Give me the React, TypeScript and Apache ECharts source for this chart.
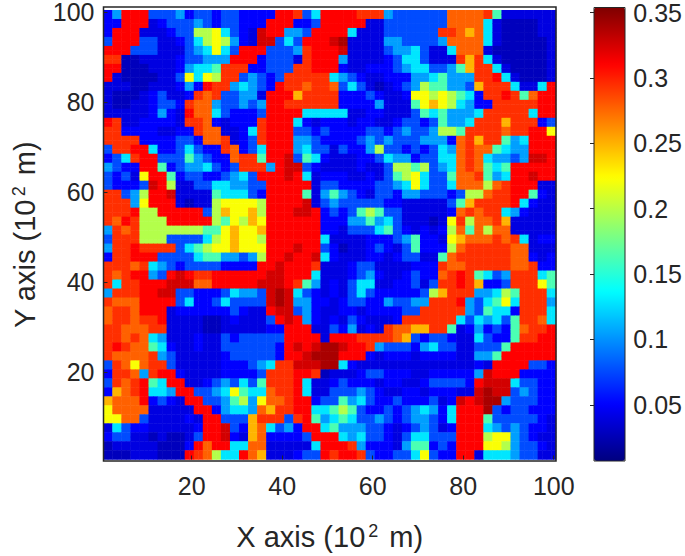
import React, { useEffect, useRef } from "react";
import * as echarts from "echarts";

const AXIS_CATEGORIES = Array.from({ length: 100 }, (_, i) => String(i + 1));
const COLORBAR_TICKS = [0.05, 0.1, 0.15, 0.2, 0.25, 0.3, 0.35];
const JET = ["#00007f", "#0000ff", "#007fff", "#00ffff", "#7fff7f", "#ffff00", "#ff7f00", "#ff0000", "#7f0000"];
const VMIN = 0.007;
const VMAX = 0.352;
// level for each code character
const LEVELS: Record<string, number> = {
  "0": 0.028, "1": 0.04, "2": 0.05, "3": 0.076, "4": 0.104, "5": 0.128, "6": 0.162, "7": 0.197,
  "8": 0.221, "9": 0.248, a: 0.276, b: 0.293, c: 0.309, d: 0.324, e: 0.338,
};
// 50 rows of 50 blocks (each 2x2 units), top row first
const ROWS = [
  "24ccc 33342 33233 2222c cb35c cccbb b4333 333aa aab61 11111",
  "22ccc 12333 43233 222cc c223c cccc1 13333 333aa aa510 00011",
  "2ccc1 11233 77853 21dcc 443cc cc511 13333 33bba 9a510 00011",
  "3ccc3 31123 57874 21dd3 53ccc de111 14433 334aa aa510 00001",
  "ccc33 31113 45853 ccc33 34bcc cd111 13445 3115a aa100 00001",
  "bb001 11123 3444c cc233 31bcc c4111 12355 3111b 9b510 00001",
  "cc000 11124 556bb b2233 3bbcc c2112 22345 53346 9bb51 00001",
  "c1000 01138 587bb 34323 bbbbb 54321 12224 45644 4bbc5 10001",
  "11100 11124 2cbb4 5432c bbabb a3531 01234 76644 39bbb 5115c",
  "10001 23112 bab33 441cc c9bbb b2223 21128 87876 52bbc b6acc",
  "10011 2332b aa433 434cc bbbbb b2222 41116 89875 422bb bbbcc",
  "11111 2421c aa532 223cc cc555 55112 21113 65644 45bbb bb5cc",
  "cb112 2221b ba212 22bcc c5212 22122 11233 23644 5bbb9 bbb23",
  "bb222 21122 baa11 25bcc c3323 22223 32343 34776 bbbba bbcc8",
  "bbbb2 22233 2aab1 23bcc c4432 22234 34333 4442a b9bb6 45ccc",
  "3bbcc 52235 322ba 235cc c4533 13224 73323 2354a baa65 44ccc",
  "235bc c3336 4322a bb6cc d3652 11122 35442 3355a ba544 34ddc",
  "4322c c6234 45323 bbb4c dd321 11121 13776 7345a ba656 ccccc",
  "32318 cc623 32234 53ccc dc512 22112 13678 5336a ab645 ccdcc",
  "32223 dc711 33554 433cc ccc13 32222 33458 5335a aa7ab ccc11",
  "bb347 ccd11 11655 532cc cc614 64321 33244 33323 77abb cc621",
  "bbb48 ccc10 11788 887cc ccd13 43333 32211 11136 9bbbb c5211",
  "bbbc7 7cccc c3798 897cc cddc2 32367 63311 1112a babb5 42111",
  "bacb7 77ccc cc768 798cc cccc2 22446 45311 1018b 7aab9 11111",
  "4bab7 77777 76689 889cc cccc2 21333 56321 2127a 6a7aa 11111",
  "3bbb7 77333 35789 887cc cccc5 11112 22346 22189 aaaba b5122",
  "4bbcb bbb35 67889 888cc cdcc3 20112 32136 2227a bbbbb aa111",
  "2bbcc c3333 56644 347cc dccd5 21112 21233 116ab bbbbb aa212",
  "bbbab 54323 33322 22ccd cccb1 11233 11112 22baa bbbbb aab22",
  "babcc 43cdc bbccc cccdd ccc51 11234 21123 22abc b6534 bbb56",
  "b5bbc ccddd aaccc ccddd cb641 21355 11223 13bbc b9223 bbb86",
  "4bbbc cdd33 22235 443de d5321 21353 22222 379bb b4457 6bbb5",
  "baaac ccc35 22353 333de d4422 12332 24334 4bbbc 43568 5bbb4",
  "abbac cc122 22223 211cd d3421 12212 22233 bbbbb 43655 2bbb5",
  "abbab bc111 10012 1113c dc421 21321 112bb bbbb5 35453 6bba5",
  "bbaaa bb111 10011 11122 ccc11 32412 1baa9 9bb61 24232 6abbc",
  "bbaba 54111 21132 33333 cccc1 cccbb bba93 23321 15322 6bbcc",
  "bcbaa 65211 21133 33332 cdcde edccb 43332 45331 13336 ccccc",
  "baaaa b4311 11123 33332 ccdee eccc2 12221 22221 1446c ccccc",
  "3ba8a bb311 11122 2345b bddde e5211 11111 11111 121cc cc332",
  "2bba4 bcc21 11122 223bb bccb0 11123 32221 12222 24dcc c2222",
  "3babc 65cc1 12343 536bb bc511 23222 12211 23333 2cddd 53322",
  "29abc 554cc 33458 655ab bc511 33343 21122 12221 1dedd 34322",
  "9aaac 2321c c3346 748aa bcc23 36453 22322 2312d cdee4 33322",
  "8aaaa 11111 cc245 54a9b bcc55 67632 23234 5425c cce32 33222",
  "88aa3 11112 1cc33 39bbb 3bc64 56533 43234 4325c cc633 33321",
  "15322 11111 2ccd3 29a53 42cc5 64443 32123 4312c cc543 43221",
  "23311 01001 3ccd2 19a22 223cc c5453 32135 5333c cc788 43211",
  "01111 10002 cacc5 5aa11 1115c ccb42 22146 6232c cc887 43321",
  "00011 1000c ba755 ca911 1233c bccb3 22335 8322c c1555 43311",
];

const TEXT = "#262626";
const FONT = "'Liberation Sans', Arial, sans-serif";

function cells(): [number, number, number][] {
  const out: [number, number, number][] = [];
  ROWS.forEach((row, r) => {
    row.replace(/ /g, "").split("").forEach((code, c) => {
      const v = LEVELS[code];
      for (let dx = 0; dx < 2; dx++) {
        for (let dy = 0; dy < 2; dy++) {
          out.push([c * 2 + dx, 99 - r * 2 - dy, v]);
        }
      }
    });
  });
  return out;
}

const showEvery20 = (i: number) => (i + 1) % 20 === 0;
const titleRich = {
  a: { fontSize: 29, fontFamily: FONT, color: TEXT },
  b: { fontSize: 18, fontFamily: FONT, color: TEXT, verticalAlign: "top", padding: [0, 3, 12, 3] },
};

export default function App() {
  const ref = useRef<HTMLDivElement>(null);
  useEffect(() => {
    const chart = echarts.init(ref.current!, undefined, { renderer: "svg" });
    const L = 103.5, T = 7, W = 452.5, H = 454;
    chart.setOption({
      animation: false,
      backgroundColor: "#fff",
      textStyle: { fontFamily: FONT },
      grid: [
        { left: L, top: T, width: W, height: H },
        { left: 594, top: 7.5, width: 31, height: 453.5 },
      ],
      xAxis: [
        {
          gridIndex: 0, type: "category", data: AXIS_CATEGORIES, position: "bottom",
          name: "{a|X axis (10}{b|2}{a| m)}", nameLocation: "middle", nameGap: 62,
          nameTextStyle: { rich: titleRich },
          axisLine: { show: false },
          axisTick: { show: true, inside: true, length: 4, alignWithLabel: true, interval: showEvery20, lineStyle: { color: TEXT } },
          axisLabel: { interval: showEvery20, fontSize: 25, color: TEXT, margin: 14, fontFamily: FONT },
          splitLine: { show: false },
          z: 5,
        },
        { gridIndex: 1, type: "value", min: 0, max: 1, show: false },
      ],
      yAxis: [
        {
          gridIndex: 0, type: "category", data: AXIS_CATEGORIES,
          name: "{a|Y axis (10}{b|2}{a| m)}", nameLocation: "middle", nameGap: 64, nameRotate: 90,
          nameTextStyle: { rich: titleRich },
          axisLine: { show: false },
          axisTick: { show: true, inside: true, length: 4, alignWithLabel: true, interval: showEvery20, lineStyle: { color: TEXT } },
          axisLabel: { interval: showEvery20, fontSize: 25, color: TEXT, margin: 9, fontFamily: FONT },
          splitLine: { show: false },
          z: 5,
        },
        {
          gridIndex: 1, type: "value", position: "right", min: VMIN, max: VMAX,
          axisLine: { show: false },
          axisTick: { show: true, inside: true, length: 4, customValues: COLORBAR_TICKS, lineStyle: { color: TEXT } },
          axisLabel: {
            fontSize: 25, color: TEXT, margin: 10, fontFamily: FONT,
            customValues: COLORBAR_TICKS,
            formatter: (v: number) => String(Math.round(v * 100) / 100),
          },
          splitLine: { show: false },
          z: 5,
        },
      ],
      visualMap: {
        show: true, type: "continuous", seriesIndex: 0, min: VMIN, max: VMAX,
        calculable: false, realtime: false, hoverLink: false,
        left: 594, top: 7.5, itemWidth: 31, itemHeight: 453.5, padding: 0, text: undefined, showLabel: false,
        textStyle: { fontSize: 0, color: "transparent" }, formatter: () => "",
        inRange: { color: JET },
      },
      series: [
        {
          type: "heatmap", xAxisIndex: 0, yAxisIndex: 0, data: cells(), progressive: 0,
          itemStyle: { borderWidth: 0 }, emphasis: { disabled: true }, silent: true,
        },
        { type: "scatter", xAxisIndex: 1, yAxisIndex: 1, data: [], silent: true },
      ],
      graphic: [
        { type: "rect", shape: { x: L, y: T, width: W, height: H }, style: { fill: "none", stroke: TEXT, lineWidth: 1.5 }, z: 100 },
        { type: "rect", shape: { x: 594, y: 7.5, width: 31, height: 453.5 }, style: { fill: "none", stroke: TEXT, lineWidth: 1 }, z: 100 },
      ],
    });
    return () => chart.dispose();
  }, []);
  return <div ref={ref} style={{ width: 685, height: 556, position: "absolute", left: 0, top: 0 }} />;
}
